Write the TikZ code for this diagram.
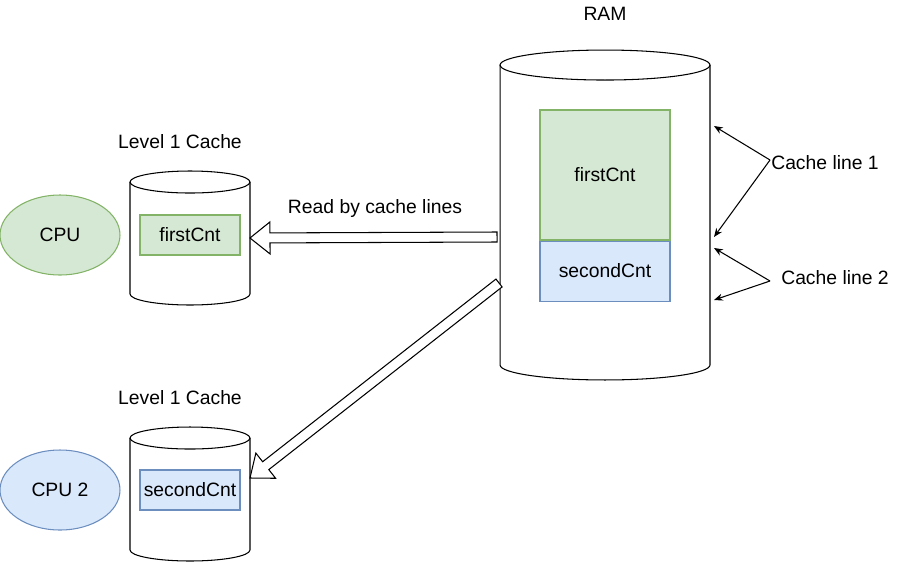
\documentclass[tikz,border=0pt]{standalone}
\usepackage{fontspec}
\setmainfont{Liberation Sans}
\usepackage{xcolor}
\usepackage{tikz}
\usetikzlibrary{shapes.geometric, arrows.meta, positioning, calc}
\definecolor{cntgreen}{HTML}{D5E8D4}
\definecolor{cntgreenline}{HTML}{82B366}
\definecolor{cntblue}{HTML}{DAE8FC}
\definecolor{cntblueline}{HTML}{6C8EBF}
\tikzset{
    storage/.style={
        rectangle,
        inner sep=0pt,
        outer sep=0pt
    },
    outline/.style={
        draw=black,
        line width=0.6pt
    },
    core/.style={
        ellipse,
        line width=0.6pt,
        minimum width=2.4cm,
        minimum height=1.6cm,
        inner sep=0pt
    },
    counter/.style={
        rectangle,
        line width=0.6pt,
        inner sep=0pt
    },
    pointer/.style={
        draw=black,
        line width=0.6pt,
        -{Stealth[length=5pt,width=4pt]}
    },
    fatarrow/.style={
        draw=black,
        fill=white,
        line width=0.6pt,
        to path={
            ($(\tikztostart)!0.1cm!90:(\tikztotarget)$)
            -- ($($(\tikztotarget)!0.4cm!(\tikztostart)$)!0.1cm!90:(\tikztotarget)$)
            -- ($($(\tikztotarget)!0.4cm!(\tikztostart)$)!0.32cm!90:(\tikztotarget)$)
            -- (\tikztotarget)
            -- ($($(\tikztotarget)!0.4cm!(\tikztostart)$)!0.32cm!-90:(\tikztotarget)$)
            -- ($($(\tikztotarget)!0.4cm!(\tikztostart)$)!0.1cm!-90:(\tikztotarget)$)
            -- ($(\tikztostart)!0.1cm!-90:(\tikztotarget)$)
            -- cycle
        }
    }
}
% cylinder outline round a storage node: name, half width, end radius
\newcommand{\storagedrum}[3]{%
    \draw[outline] ($(#1.north west)+(0,-#3)$) -- ($(#1.south west)+(0,#3)$)
        arc[start angle=180, end angle=360, x radius=#2, y radius=#3]
        -- ($(#1.north east)+(0,-#3)$);
    \draw[outline] ($(#1.north)+(0,-#3)$) ellipse[x radius=#2, y radius=#3];
}
\begin{document}
\begin{tikzpicture}[x=0.02cm, y=-0.02cm, font=\fontsize{11}{13}\selectfont]
\useasboundingbox (0,0) rectangle (901,561);

% RAM
\node[storage, minimum width=4.2cm, minimum height=6.6cm] (ram) at (605,215) {};
\storagedrum{ram}{2.1cm}{0.3cm}
\node[above=0.46cm of ram] (ramlabel) {RAM};
\node[counter, fill=cntgreen, draw=cntgreenline, minimum width=2.6cm, minimum height=2.6cm] (ramfirst) at (605,175) {firstCnt};
\node[counter, fill=cntblue, draw=cntblueline, minimum width=2.6cm, minimum height=1.2cm, below=0pt of ramfirst] (ramsecond) {secondCnt};

% First core
\node[core, fill=cntgreen, draw=cntgreenline] (cpu1) at (60,235) {CPU};
\node[storage, minimum width=2.4cm, minimum height=2.68cm] (cache1) at (190,238) {};
\storagedrum{cache1}{1.2cm}{0.22cm}
\node[above=0.33cm of cache1, xshift=-0.2cm] (cache1label) {Level 1 Cache};
\node[counter, fill=cntgreen, draw=cntgreenline, minimum width=2cm, minimum height=0.8cm] (cache1cnt) at (190,235) {firstCnt};

% Second core
\node[core, fill=cntblue, draw=cntblueline] (cpu2) at (60,490) {CPU 2};
\node[storage, minimum width=2.4cm, minimum height=2.68cm] (cache2) at (190,494) {};
\storagedrum{cache2}{1.2cm}{0.22cm}
\node[above=0.33cm of cache2, xshift=-0.2cm] (cache2label) {Level 1 Cache};
\node[counter, fill=cntblue, draw=cntblueline, minimum width=2cm, minimum height=0.8cm] (cache2cnt) at (190,490) {secondCnt};

% Transfers
\coordinate (readtail) at ($(ram.west)+(-3,22)$);
\coordinate (copytail) at ($(ram.west)+(-1,68)$);
\coordinate (copytip) at ($(cache2.east)+(0,-16)$);
\draw[fatarrow] (readtail) to (cache1.east);
\draw[fatarrow] (copytail) to (copytip);
\node (readlabel) at (375,208) {Read by cache lines};

% Cache lines
\node (line1) at (825,163) {Cache line 1};
\node (line2) at (835,278) {Cache line 2};
\coordinate (line1src) at (770,160);
\coordinate (line2src) at (770,281);
\coordinate (line1top) at ($(ram.east)+(4,-89)$);
\coordinate (line1bot) at ($(ram.east)+(4,22)$);
\coordinate (line2top) at ($(ram.east)+(4,33)$);
\coordinate (line2bot) at ($(ram.east)+(4,85)$);
\draw[pointer] (line1src) -- (line1top);
\draw[pointer] (line1src) -- (line1bot);
\draw[pointer] (line2src) -- (line2top);
\draw[pointer] (line2src) -- (line2bot);

\end{tikzpicture}
\end{document}
